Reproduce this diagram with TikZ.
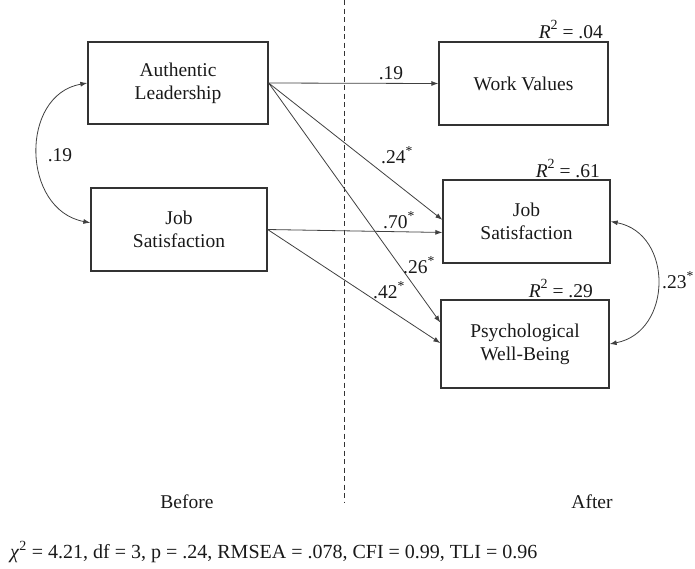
\documentclass[tikz,border=0pt]{standalone}
\usepackage{fontspec}
\setmainfont{Liberation Serif}
\usetikzlibrary{arrows.meta,calc}
\newcommand{\rsq}{\textit{R}\raisebox{0.45em}{\fontsize{14}{14}\selectfont 2}}
\begin{document}
\begin{tikzpicture}[x=1pt,y=-1pt,
  every node/.style={font=\fontsize{19.5}{23}\selectfont, text=black!90},
  box/.style={draw=black!80, line width=1.3pt, inner sep=0pt, align=center},
  path/.style={draw=black!75, line width=0.8pt, -{Latex[length=7pt,width=5pt]}},
  corr/.style={draw=black!75, line width=0.8pt, {Latex[length=7pt,width=5pt]}-{Latex[length=7pt,width=5pt]}},
  rlab/.style={anchor=base east, inner sep=0pt, font=\fontsize{19.5}{23}\selectfont},
  lab/.style={inner sep=1pt}]
\useasboundingbox (0,0) rectangle (695,568);
% boxes
\node[box, minimum width=180pt, minimum height=82pt] (AL) at (178,83) {Authentic\\Leadership};
\node[box, minimum width=176pt, minimum height=83pt] (JSl) at (179,229.5) {Job\\Satisfaction};
\node[box, minimum width=169pt, minimum height=83pt] (WV) at (523.5,83.5) {Work Values};
\node[box, minimum width=167pt, minimum height=83pt] (JSr) at (526.5,221.5) {Job\\Satisfaction};
\node[box, minimum width=168pt, minimum height=88pt] (PWB) at (525,344) {Psychological\\Well-Being};
% R2 labels
\node[rlab] (r1) at (603,38) {\rsq{} = .04};
\node[rlab] (r2) at (600,177) {\rsq{} = .61};
\node[rlab] (r3) at (593,297) {\rsq{} = .29};
% dashed divider
\coordinate (dtop) at (344,0);
\coordinate (dbot) at (344,503);
\draw[black!80, line width=0.9pt, dash pattern=on 5pt off 3.5pt] (dtop) -- (dbot);
% attachment points
\coordinate (jsrA) at ($(JSr.north west)!0.48!(JSr.south west)$);
\coordinate (jsrB) at ($(JSr.north west)!0.63!(JSr.south west)$);
\coordinate (pwbA) at ($(PWB.north west)!0.26!(PWB.south west)$);
\coordinate (pwbB) at ($(PWB.north west)!0.49!(PWB.south west)$);
\coordinate (jslW) at ($(JSl.north west)!0.42!(JSl.south west)$);
% paths
\draw[path] (AL.east) -- (WV.west);
\draw[path] (AL.east) -- (jsrA);
\draw[path] (AL.east) -- (pwbA);
\draw[path] (JSl.east) -- (jsrB);
\draw[path] (JSl.east) -- (pwbB);
% correlations
\draw[corr] (AL.west) .. controls +(-68,12) and +(-69,-13) .. (jslW);
\draw[corr] (JSr.east) .. controls +(63,12) and +(63,-12) .. (PWB.east);
% labels
\node[lab] (l1) at (391,73) {.19};
\node[lab] (l2) at (397,155) {.24\textsuperscript{*}};
\node[lab] (l3) at (399,220) {.70\textsuperscript{*}};
\node[lab] (l4) at (419,265) {.26\textsuperscript{*}};
\node[lab] (l5) at (389,290) {.42\textsuperscript{*}};
\node[lab] (l6) at (60,155) {.19};
\node[lab, anchor=west, inner sep=0pt] (l7) at (662,280) {.23\textsuperscript{*}};
% bottom
\node (before) at (187,502) {Before};
\node (after) at (592,502) {After};
\node[anchor=west, inner sep=0pt, font=\fontsize{20}{24}\selectfont] (fit) at (10,552) {\textit{χ}\textsuperscript{2} = 4.21, df = 3, p = .24, RMSEA = .078, CFI = 0.99, TLI = 0.96};
\end{tikzpicture}
\end{document}
